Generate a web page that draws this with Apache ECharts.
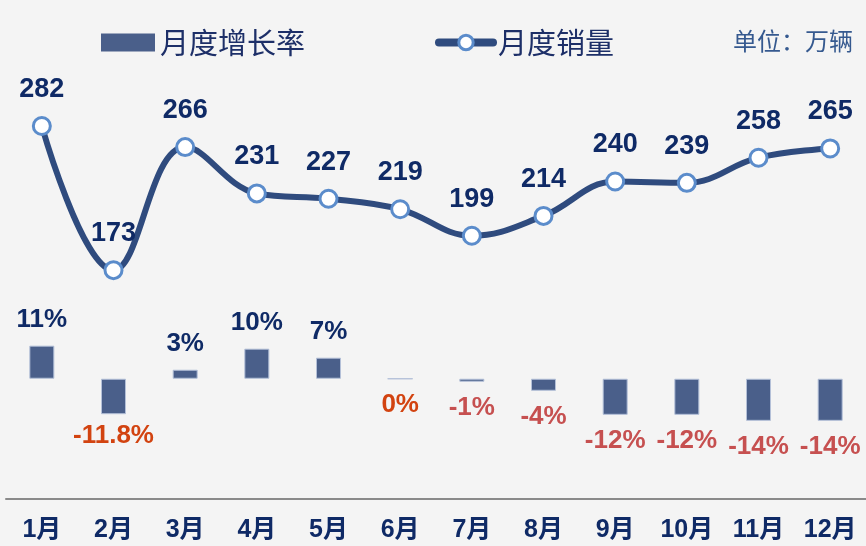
<!DOCTYPE html>
<html>
<head>
<meta charset="utf-8">
<script src="https://cdn.jsdelivr.net/npm/echarts@6/dist/echarts.min.js"></script>
<style>
html,body{margin:0;padding:0;background:#f4f4f4;}
#chart{width:866px;height:546px;}
</style>
</head>
<body>
<div id="chart"></div>
<script>
const months = ['1月','2月','3月','4月','5月','6月','7月','8月','9月','10月','11月','12月'];
const sales = [282,173,266,231,227,219,199,214,240,239,258,265];
const growth = [11,-11.8,3,10,7,0,-1,-4,-12,-12,-14,-14];
const growthLabels = ['11%','-11.8%','3%','10%','7%','0%','-1%','-4%','-12%','-12%','-14%','-14%'];
const accentIdx = [1,5];

const NAVY = '#0f2a66';
const chart = echarts.init(document.getElementById('chart'));
const barData = growth.map((v,i)=>({
  value: v,
  label: {
    position: v > 0 ? 'top' : 'bottom',
    distance: accentIdx[0] === i ? 9 : 13,
    color: v > 0 ? NAVY : (accentIdx.includes(i) ? '#d24310' : '#c65050')
  }
}));
chart.setOption({
  backgroundColor:'#f4f4f4',
  animation:false,
  title:{
    text:'单位：万辆', right:13, top:29, padding:0,
    textStyle:{fontSize:24,fontWeight:'normal',color:'#35598f',fontFamily:'Noto Sans CJK SC'}
  },
  legend:{
    left:101, top:28, padding:0, itemGap:130, itemWidth:54, itemHeight:18,
    data:[
      {name:'月度增长率', icon:'rect', itemStyle:{borderWidth:0}},
      {name:'月度销量', lineStyle:{width:8,color:'#2f4b7e',cap:'round'}, itemStyle:{borderWidth:3}}
    ],
    textStyle:{fontSize:29,color:'#1d2f68',fontFamily:'Noto Sans CJK SC'}
  },
  grid:{left:6, width:865, top:36, bottom:47},
  xAxis:{
    type:'category', data:months,
    axisLine:{lineStyle:{color:'#8a8a8a',width:2}},
    axisTick:{show:false},
    axisLabel:{margin:19,fontSize:25,fontWeight:'bold',color:NAVY,fontFamily:'Liberation Sans, Noto Sans CJK SC'}
  },
  yAxis:[
    {type:'value',min:0,max:350,show:false,splitLine:{show:false}},
    {type:'value',min:-40,max:114,show:false,splitLine:{show:false}}
  ],
  series:[
    {
      name:'月度增长率', type:'bar', yAxisIndex:1, barWidth:25,
      data:barData,
      itemStyle:{color:'#4a5f8a',borderColor:'#b4c0d8',borderWidth:1},
      label:{show:true,distance:13,fontSize:26,fontWeight:'bold',fontFamily:'Liberation Sans',
        formatter:p=>growthLabels[p.dataIndex]}
    },
    {
      name:'月度销量', type:'line', yAxisIndex:0, smooth:0.4,
      data:sales,
      symbol:'circle', symbolSize:17,
      lineStyle:{color:'#2f4b7e',width:6},
      itemStyle:{color:'#ffffff',borderColor:'#5b8ccb',borderWidth:3},
      label:{show:true,position:'top',distance:13,fontSize:27,fontWeight:'bold',color:NAVY,fontFamily:'Liberation Sans'}
    }
  ]
});
</script>
</body>
</html>
